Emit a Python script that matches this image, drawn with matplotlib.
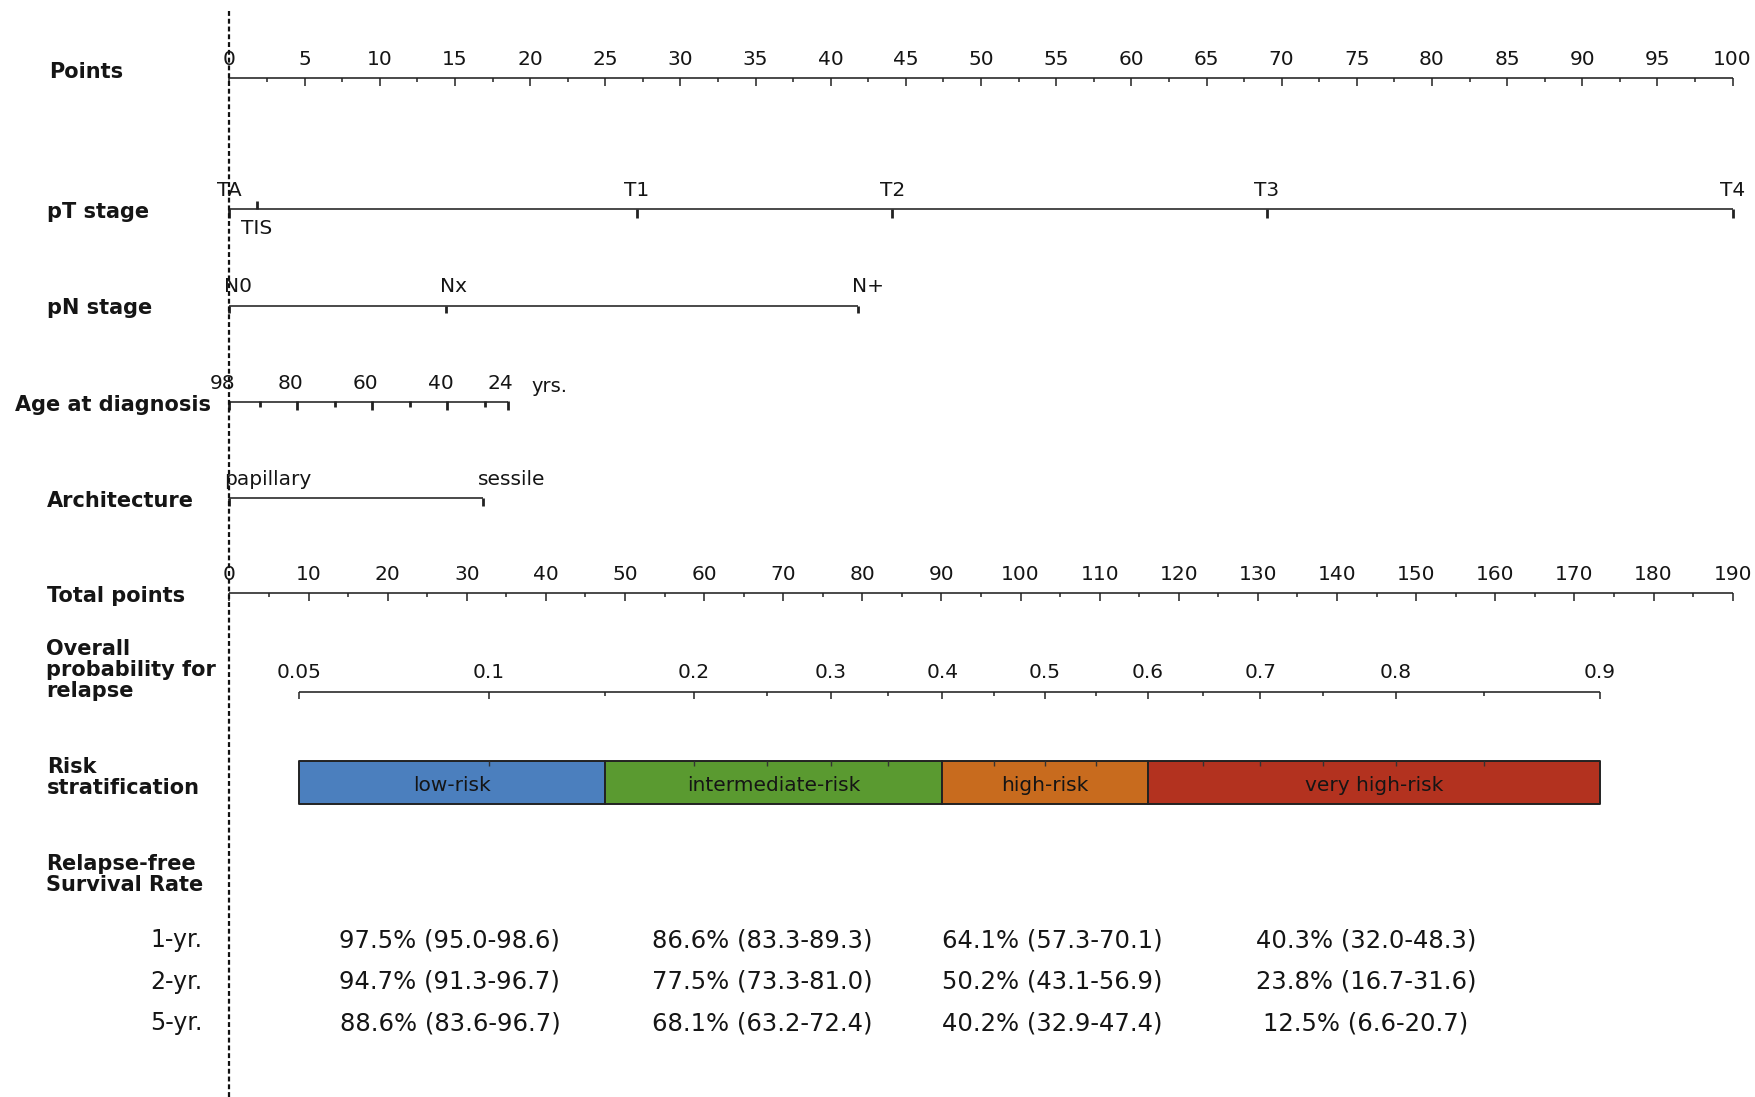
import numpy as np
import matplotlib.pyplot as plt

# --- nomogram scales -------------------------------------------------------
points_ticks = np.arange(0, 101, 5)
points_minor = np.arange(2.5, 100, 5)

pt_labels = ["TA", "TIS", "T1", "T2", "T3", "T4"]
pt_points = [0.0, 1.8, 27.1, 44.1, 69.0, 100.0]
pt_below = ["TIS"]

pn_labels = ["N0", "Nx", "N+"]
pn_points = [0.0, 14.4, 41.8]

age_ticks = [98, 90, 80, 70, 60, 50, 40, 30, 24]
age_points = [0.0, 2.0, 4.5, 7.0, 9.5, 12.0, 14.5, 17.0, 18.5]
age_labeled = [98, 80, 60, 40, 24]

arch_labels = ["papillary", "sessile"]
arch_points = [0.0, 16.9]

total_max = 190
total_ticks = np.arange(0, 191, 10)
total_minor = np.arange(5, 190, 10)

prob_ticks = [0.05, 0.1, 0.15, 0.2, 0.25, 0.3, 0.35, 0.4, 0.45, 0.5,
              0.55, 0.6, 0.65, 0.7, 0.75, 0.8, 0.85, 0.9]
prob_total = [8.8, 32.8, 47.5, 58.7, 68.0, 76.0, 83.3, 90.1, 96.7, 103.1,
              109.5, 116.1, 123.0, 130.3, 138.2, 147.4, 158.6, 173.2]
prob_labeled = [0.05, 0.1, 0.2, 0.3, 0.4, 0.5, 0.6, 0.7, 0.8, 0.9]

risk_groups = ["low-risk", "intermediate-risk", "high-risk", "very high-risk"]
risk_cuts = [0.05, 0.15, 0.4, 0.6, 0.9]
risk_colors = ["#4b7fbe", "#5a9a30", "#c86b1e", "#b3321f"]

surv_years = ["1-yr.", "2-yr.", "5-yr."]
surv_low = ["97.5% (95.0-98.6)", "94.7% (91.3-96.7)", "88.6% (83.6-96.7)"]
surv_intermediate = ["86.6% (83.3-89.3)", "77.5% (73.3-81.0)", "68.1% (63.2-72.4)"]
surv_high = ["64.1% (57.3-70.1)", "50.2% (43.1-56.9)", "40.2% (32.9-47.4)"]
surv_very_high = ["40.3% (32.0-48.3)", "23.8% (16.7-31.6)", "12.5% (6.6-20.7)"]

# --- layout ------------------------------------------------------------------
W, H = 1568, 980          # layout grid
X0, X100 = 205, 1548      # where 0 and 100 points sit on the grid
row_y = {"points": 70, "pt": 187, "pn": 273, "age": 359.5, "arch": 445,
         "total": 530, "prob": 618}
box_top, box_bot = 680, 718
surv_rows = [840, 877, 914]
col_shift = [-2, -10, 6, -7]

LINE = "#222222"
TXT = "#151515"
plt.rcParams["font.family"] = "DejaVu Sans"

fig = plt.figure(figsize=(17.55, 10.97), dpi=100)
ax = fig.add_axes([0, 0, 1, 1])
ppx = 100 / (X100 - X0)   # points per grid pixel
ax.set_xlim(-X0 * ppx, (W - X0) * ppx)
ax.set_ylim(H, 0)
ax.axis("off")
lab_tf = ax.get_yaxis_transform()


def tot2pts(t):
    return np.asarray(t, dtype=float) * 100.0 / total_max


def axis_line(x0, x1, y):
    ax.plot([x0, x1], [y, y], color=LINE, lw=1.15, solid_capstyle="butt")


def ticks(xs, y, length, lw=1.1, up=0.0):
    for x in np.atleast_1d(xs):
        ax.plot([x, x], [y - up, y + length], color=LINE, lw=lw,
                solid_capstyle="butt")


def row_label(text, y, x, va="baseline"):
    ax.text(x / W, y, text, transform=lab_tf, fontsize=15, fontweight="bold",
            color=TXT, ha="left", va=va, linespacing=1.05)


TICK_FS = 14.5
GAP = 12

# Points
y = row_y["points"]
axis_line(0, 100, y)
ticks(points_ticks, y, 6.5)
ticks(points_minor, y, 3.5)
for v in points_ticks:
    ax.text(v, y - GAP, f"{v:g}", fontsize=TICK_FS, color=TXT,
            ha="center", va="baseline")
row_label("Points", y, 44)

# pT stage
y = row_y["pt"]
axis_line(pt_points[0], pt_points[-1], y)
for lab, v in zip(pt_labels, pt_points):
    if lab in pt_below:
        ticks(v, y, 0, lw=2.0, up=7)
        ax.text(v, y + 9, lab, fontsize=TICK_FS, color=TXT, ha="center", va="top")
    else:
        ticks(v, y, 7.5, lw=2.0)
        ax.text(v, y - GAP, lab, fontsize=TICK_FS, color=TXT,
                ha="center", va="baseline")
row_label("pT stage", y + 7.5, 42)

# pN stage
y = row_y["pn"]
axis_line(pn_points[0], pn_points[-1], y)
ticks(pn_points, y, 7, lw=2.0)
for lab, v in zip(pn_labels, pn_points):
    ax.text(v - 0.37, y - GAP, lab, fontsize=TICK_FS, color=TXT,
            ha="left", va="baseline")
row_label("pN stage", y + 7.5, 42)

# Age at diagnosis
y = row_y["age"]
axis_line(age_points[0], age_points[-1], y)
for a, v in zip(age_ticks, age_points):
    major = a in age_labeled
    ticks(v, y, 6.5 if major else 4, lw=2.0, up=1.5)
    if major:
        ax.text(v - 0.45, y - GAP, str(a), fontsize=TICK_FS, color=TXT,
                ha="center", va="baseline")
ax.text(age_points[-1] + 1.6, y - GAP + 3, "yrs.", fontsize=TICK_FS - 0.5,
        color=TXT, ha="left", va="baseline")
row_label("Age at diagnosis", y + 7.5, 13)

# Architecture
y = row_y["arch"]
axis_line(arch_points[0], arch_points[-1], y)
ticks(arch_points, y, 7, lw=2.0)
for lab, v in zip(arch_labels, arch_points):
    ax.text(v - 0.37, y - GAP, lab, fontsize=TICK_FS, color=TXT,
            ha="left", va="baseline")
row_label("Architecture", y + 7.5, 42)

# Total points
y = row_y["total"]
axis_line(0, tot2pts(total_max), y)
ticks(tot2pts(total_ticks), y, 6.5)
ticks(tot2pts(total_minor), y, 3.5)
for v in total_ticks:
    ax.text(tot2pts(v), y - GAP, f"{v:g}", fontsize=TICK_FS, color=TXT,
            ha="center", va="baseline")
row_label("Total points", y + 7.5, 42)

# Overall probability for relapse
y = row_y["prob"]
prob_x = dict(zip(prob_ticks, tot2pts(prob_total)))
axis_line(prob_x[prob_ticks[0]], prob_x[prob_ticks[-1]], y)
for p in prob_ticks:
    major = p in prob_labeled
    ticks(prob_x[p], y, 6.5 if major else 3.5)
    if major:
        ax.text(prob_x[p], y - GAP, f"{p:g}", fontsize=TICK_FS, color=TXT,
                ha="center", va="baseline")
row_label("Overall\nprobability for\nrelapse", 571, 41, va="top")

# Risk stratification boxes
box_centers = []
for i, (name, col) in enumerate(zip(risk_groups, risk_colors)):
    xa, xb = prob_x[risk_cuts[i]], prob_x[risk_cuts[i + 1]]
    ax.fill_between([xa, xb], box_top, box_bot, facecolor=col,
                    edgecolor="#222222", lw=1.4)
    cx = (xa + xb) / 2
    box_centers.append(cx)
    ax.text(cx, box_top + 27, name, fontsize=TICK_FS, color=TXT,
            ha="center", va="baseline")
for p in prob_ticks:
    if p not in risk_cuts:
        ax.plot([prob_x[p], prob_x[p]], [box_top, box_top + 4.5],
                color="#333333", lw=1.0, solid_capstyle="butt")
row_label("Risk\nstratification", 676, 42, va="top")

# Relapse-free survival table
row_label("Relapse-free\nSurvival Rate", 763, 41, va="top")
columns = [surv_low, surv_intermediate, surv_high, surv_very_high]
for yr, yy in zip(surv_years, surv_rows):
    ax.text(181 / W, yy, yr, transform=lab_tf, fontsize=17, color=TXT,
            ha="right", va="center")
for col, cx, dx in zip(columns, box_centers, col_shift):
    for txt, yy in zip(col, surv_rows):
        ax.text(cx + dx * ppx, yy, txt, fontsize=17.5, color=TXT,
                ha="center", va="center")

# reference line at zero points
ax.plot([0, 0], [10, H], color="#111111", lw=1.6, ls=(0, (2.2, 1.3)), zorder=10)

fig.savefig("out.png", dpi=100, facecolor="white")
